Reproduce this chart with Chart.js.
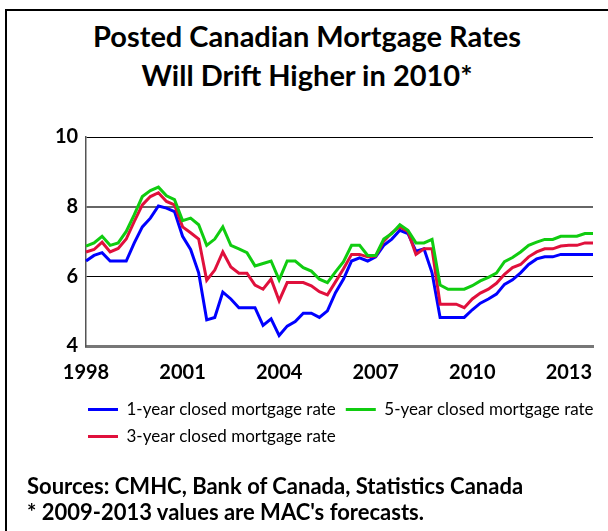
<!DOCTYPE html>
<html>
<head>
<meta charset="utf-8">
<script src="https://cdn.jsdelivr.net/npm/chart.js@4"></script>
<style>
html, body { margin: 0; padding: 0; background: #fff; }
body { width: 608px; height: 531px; position: relative; overflow: hidden; font-family: Lato, sans-serif; color: #000; }
#frame { position: absolute; left: 5px; top: 9px; width: 620px; height: 540px; border-left: 2px solid #000; border-top: 2px solid #000; }
#title { position: absolute; left: 0; width: 614px; top: 16px; text-align: center; font-weight: bold; font-size: 29px; line-height: 39px; }
#wrap { position: absolute; left: 0; top: 0; width: 608px; height: 531px; }
#notes { position: absolute; left: 27px; top: 473px; font-weight: bold; font-size: 22px; line-height: 26px; white-space: nowrap; }
</style>
</head>
<body>
<div id="frame"></div>
<div id="title">Posted Canadian Mortgage Rates<br>Will Drift Higher in 2010*</div>
<div id="wrap"><canvas id="rateChart"></canvas></div>
<div id="notes">Sources: CMHC, Bank of Canada, Statistics Canada<br>* 2009-2013 values are MAC's forecasts.</div>
<script>
// quarterly, 1998 Q1 .. 2013 Q4
const years = [1998, 1999, 2000, 2001, 2002, 2003, 2004, 2005, 2006, 2007, 2008, 2009, 2010, 2011, 2012, 2013];
const quarters = ['Q1', 'Q2', 'Q3', 'Q4'];
const tickLabels = ['1998', '2001', '2004', '2007', '2010', '2013'];

const oneYear = [6.44, 6.6, 6.68, 6.44, 6.44, 6.44, 6.96, 7.42, 7.67, 8.02, 7.96, 7.86, 7.15, 6.77, 6.1, 4.75,
    4.82, 5.55, 5.35, 5.1, 5.1, 5.1, 4.59, 4.78, 4.3, 4.57, 4.7, 4.94, 4.94, 4.82, 5.01, 5.53,
    5.92, 6.44, 6.53, 6.44, 6.56, 6.89, 7.07, 7.32, 7.23, 6.72, 6.79, 6.1, 4.82, 4.82, 4.82, 4.82,
    5.04, 5.23, 5.35, 5.49, 5.77, 5.9, 6.1, 6.34, 6.5, 6.56, 6.56, 6.63, 6.63, 6.63, 6.63, 6.63];
const threeYear = [6.7, 6.77, 6.98, 6.7, 6.8, 7.07, 7.58, 8.05, 8.29, 8.4, 8.15, 8.05, 7.42, 7.25, 7.07, 5.89,
    6.18, 6.7, 6.27, 6.09, 6.09, 5.75, 5.63, 5.92, 5.3, 5.82, 5.82, 5.82, 5.73, 5.56, 5.47, 5.84,
    6.22, 6.63, 6.63, 6.56, 6.58, 7.01, 7.25, 7.42, 7.29, 6.63, 6.79, 6.79, 5.2, 5.2, 5.2, 5.1,
    5.35, 5.52, 5.63, 5.8, 6.06, 6.25, 6.34, 6.56, 6.7, 6.79, 6.79, 6.87, 6.89, 6.89, 6.96, 6.96];
const fiveYear = [6.87, 6.96, 7.15, 6.89, 6.96, 7.29, 7.77, 8.29, 8.46, 8.56, 8.31, 8.2, 7.6, 7.67, 7.48, 6.89,
    7.07, 7.42, 6.89, 6.79, 6.68, 6.3, 6.37, 6.44, 5.9, 6.44, 6.44, 6.25, 6.15, 5.92, 5.82, 6.13,
    6.42, 6.89, 6.89, 6.6, 6.6, 7.07, 7.23, 7.48, 7.32, 6.96, 6.96, 7.06, 5.75, 5.63, 5.63, 5.63,
    5.73, 5.87, 5.97, 6.09, 6.42, 6.54, 6.7, 6.89, 6.98, 7.06, 7.06, 7.15, 7.15, 7.15, 7.23, 7.23];

const legendOrder = ['1-year closed mortgage rate', '5-year closed mortgage rate', '3-year closed mortgage rate'];

const categories = years.flatMap(y => quarters.map(q => y + ' ' + q));

const rateCtx = document.getElementById('rateChart').getContext('2d');

const rateData = {
    labels: categories,
    datasets: [{
        label: '5-year closed mortgage rate',
        data: fiveYear,
        borderColor: '#10CC10',
        pointBorderColor: '#10CC10',
    }, {
        label: '3-year closed mortgage rate',
        data: threeYear,
        borderColor: '#E0103C',
        pointBorderColor: '#E0103C',
    }, {
        label: '1-year closed mortgage rate',
        data: oneYear,
        borderColor: '#0000FF',
        pointBorderColor: '#0000FF',
    }],
};

const rateConfig = {
    type: 'line',
    data: rateData,
    options: {
        responsive: true,
        maintainAspectRatio: false,
        animation: false,
        layout: {
            padding: { left: 78, top: 137, right: 0, bottom: 76 },
        },
        elements: {
            line: { borderWidth: 3, tension: 0, fill: false },
            // point border width only feeds the legend line sample
            point: { radius: 0, hoverRadius: 0, borderWidth: 3 },
        },
        scales: {
            x: {
                offset: false,
                afterFit: s => { s.height = 45; },
                grid: { display: false, drawTicks: false },
                border: { display: true, color: '#777', width: 3 },
                ticks: {
                    autoSkip: false,
                    maxRotation: 0,
                    padding: 15,
                    color: '#000',
                    font: { family: 'Lato', size: 20, weight: 'bold' },
                    callback: (value) => {
                        const parts = categories[value].split(' ');
                        return parts[1] === 'Q1' && tickLabels.includes(parts[0]) ? parts[0] : '';
                    },
                },
            },
            y: {
                min: 4,
                max: 10,
                // narrow axis box so the legend can share the left padding; labels drawn mirrored back to the left
                afterFit: s => { s.width = 8; },
                grid: {
                    drawTicks: false,
                    color: c => c.tick.value === 4 ? 'rgba(0,0,0,0)' : (c.tick.value === 8 ? '#666' : '#000'),
                    lineWidth: c => c.tick.value === 8 ? 2 : 1,
                },
                border: { display: true, color: '#555', width: 1.5 },
                ticks: {
                    stepSize: 2,
                    mirror: true,
                    crossAlign: 'far',
                    padding: -31,
                    color: '#000',
                    font: { family: 'Lato', size: 20, weight: 'bold' },
                },
            },
        },
        plugins: {
            tooltip: { enabled: false },
            legend: {
                position: 'bottom',
                align: 'start',
                labels: {
                    color: '#000',
                    font: { family: 'Lato', size: 17 },
                    usePointStyle: true,
                    pointStyle: 'line',
                    pointStyleWidth: 30,
                    padding: 10,
                    sort: (a, b) => legendOrder.indexOf(a.text) - legendOrder.indexOf(b.text),
                },
            },
        },
    },
};

const rateChart = new Chart(rateCtx, rateConfig);
</script>
</body>
</html>
